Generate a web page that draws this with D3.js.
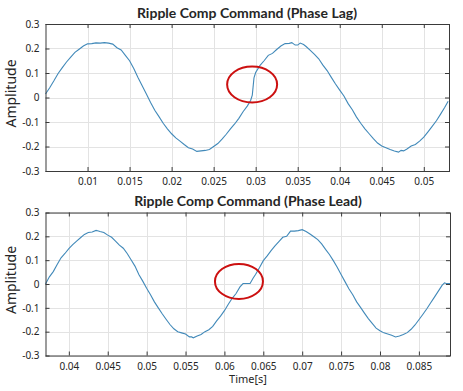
<!doctype html>
<html>
<head>
<meta charset="utf-8">
<title> Ripple Comp Command </title>
<script src="https://cdnjs.cloudflare.com/ajax/libs/d3/7.8.5/d3.min.js"></script>
<style>
body {
	margin: 0;
	background: white;
}
text {
	font-family: "Noto Sans", "Liberation Sans", sans-serif;
	fill: #262626;
}
.grid line {
	stroke: #e3e3e3;
	stroke-width: 1;
}
.frame {
	fill: none;
	stroke: #3a3a3a;
	stroke-width: 1;
}
.tick line {
	stroke: #3a3a3a;
}
.trace {
	fill: none;
	stroke: #4189b9;
	stroke-width: 1.1;
}
.mark {
	fill: none;
	stroke: #cc1010;
	stroke-width: 2;
}
</style>
</head>
<body>
<div id="chartContainer"></div>

<script type="text/javascript">

// ---- data ----
var titles = ["Ripple Comp Command (Phase Lag)", "Ripple Comp Command (Phase Lead)"];

var lagTime = [0.0050,0.0055,0.0060,0.0065,0.0070,0.0075,0.0080,0.0085,0.0090,0.0095,
	0.0100,0.0105,0.0110,0.0115,0.0120,0.0125,0.0130,0.0135,0.0140,0.0145,
	0.0150,0.0155,0.0160,0.0165,0.0170,0.0175,0.0180,0.0185,0.0190,0.0195,
	0.0200,0.0205,0.0210,0.0215,0.0220,0.0225,0.0230,0.0235,0.0240,0.0245,
	0.0250,0.0255,0.0260,0.0265,0.0270,0.0275,0.0280,0.0285,0.0290,0.0294,
	0.0296,0.0298,0.0300,0.0305,0.0310,0.0315,0.0320,0.0325,0.0330,0.0335,
	0.0340,0.0343,0.0347,0.0350,0.0353,0.0357,0.0360,0.0365,0.0370,0.0375,
	0.0380,0.0385,0.0390,0.0395,0.0400,0.0405,0.0410,0.0415,0.0420,0.0425,
	0.0430,0.0435,0.0440,0.0445,0.0450,0.0455,0.0460,0.0465,0.0470,0.0473,
	0.0476,0.0480,0.0485,0.0490,0.0495,0.0500,0.0505,0.0510,0.0515,0.0520,
	0.0525,0.0529];
var lagAmp = [0.014,0.040,0.068,0.098,0.122,0.145,0.165,0.184,0.197,0.210,
	0.219,0.220,0.223,0.222,0.224,0.222,0.218,0.203,0.194,0.172,
	0.150,0.118,0.082,0.048,0.014,-0.020,-0.052,-0.078,-0.105,-0.128,
	-0.148,-0.165,-0.178,-0.192,-0.205,-0.210,-0.220,-0.218,-0.216,-0.212,
	-0.200,-0.188,-0.170,-0.150,-0.128,-0.108,-0.085,-0.058,-0.035,-0.012,
	0.010,0.080,0.102,0.130,0.150,0.172,0.180,0.196,0.210,0.220,
	0.221,0.224,0.214,0.214,0.222,0.216,0.208,0.192,0.176,0.158,
	0.132,0.110,0.082,0.055,0.030,0.006,-0.025,-0.050,-0.080,-0.105,
	-0.128,-0.148,-0.168,-0.186,-0.198,-0.205,-0.212,-0.218,-0.223,-0.216,
	-0.218,-0.210,-0.198,-0.192,-0.178,-0.162,-0.140,-0.118,-0.095,-0.068,
	-0.040,-0.015];

var leadTime = [0.0370,0.0375,0.0380,0.0385,0.0390,0.0395,0.0400,0.0405,0.0410,0.0415,
	0.0420,0.0425,0.0430,0.0435,0.0438,0.0440,0.0445,0.0450,0.0455,0.0460,
	0.0465,0.0470,0.0475,0.0480,0.0485,0.0490,0.0495,0.0500,0.0505,0.0510,
	0.0515,0.0520,0.0525,0.0530,0.0535,0.0540,0.0545,0.0550,0.0555,0.0558,
	0.0560,0.0565,0.0570,0.0575,0.0580,0.0585,0.0590,0.0595,0.0600,0.0605,
	0.0610,0.0615,0.0620,0.0624,0.0630,0.0633,0.0637,0.0640,0.0645,0.0650,
	0.0655,0.0660,0.0665,0.0670,0.0675,0.0680,0.0685,0.0690,0.0695,0.0700,
	0.0705,0.0710,0.0715,0.0720,0.0725,0.0730,0.0735,0.0740,0.0745,0.0750,
	0.0755,0.0760,0.0765,0.0770,0.0775,0.0780,0.0785,0.0790,0.0795,0.0800,
	0.0805,0.0810,0.0815,0.0820,0.0825,0.0830,0.0835,0.0840,0.0845,0.0850,
	0.0855,0.0860,0.0865,0.0870,0.0875,0.0880,0.0883,0.0885,0.0890];
var leadAmp = [0.000,0.030,0.052,0.082,0.110,0.128,0.148,0.165,0.180,0.194,
	0.208,0.216,0.218,0.225,0.222,0.220,0.216,0.205,0.196,0.180,
	0.163,0.150,0.128,0.102,0.075,0.040,0.012,-0.018,-0.045,-0.075,
	-0.100,-0.125,-0.148,-0.170,-0.188,-0.200,-0.205,-0.210,-0.222,-0.222,
	-0.226,-0.218,-0.212,-0.200,-0.192,-0.178,-0.155,-0.135,-0.112,-0.085,
	-0.060,-0.040,-0.012,0.002,0.002,0.002,0.025,0.040,0.068,0.098,
	0.118,0.140,0.160,0.178,0.196,0.200,0.222,0.222,0.224,0.228,
	0.220,0.210,0.198,0.186,0.168,0.145,0.124,0.098,0.070,0.040,
	0.010,-0.020,-0.045,-0.075,-0.098,-0.122,-0.145,-0.165,-0.185,-0.196,
	-0.205,-0.210,-0.215,-0.222,-0.218,-0.212,-0.204,-0.190,-0.172,-0.150,
	-0.128,-0.105,-0.080,-0.055,-0.030,-0.005,0.005,0.002,0.002];

var lagTicks = [0.01,0.015,0.02,0.025,0.03,0.035,0.04,0.045,0.05];
var leadTicks = [0.04,0.045,0.05,0.055,0.06,0.065,0.07,0.075,0.08,0.085];
var ampTicks = [-0.3,-0.2,-0.1,0,0.1,0.2,0.3];

var lagDomain = [0.005, 0.053];
var leadDomain = [0.037, 0.089];
var ampDomain = [-0.3, 0.3];

// circled spots (centre in data units)
var lagMark = [0.02958, 0.053];
var leadMark = [0.06187, 0.011];

// ---- drawing ----
var svg = d3.select("#chartContainer").append("svg")
	.attr("width", 463)
	.attr("height", 391);

function panel(cfg)
{
	var x = d3.scaleLinear().domain(cfg.xDomain).range([cfg.left, cfg.right]);
	var y = d3.scaleLinear().domain(ampDomain).range([cfg.bottom, cfg.top]);

	var g = svg.append("g");

	// grid
	var grid = g.append("g").attr("class", "grid");
	grid.selectAll(".gx").data(cfg.xTicks).enter().append("line")
		.attr("x1", function(d){ return Math.round(x(d)) + 0.5; })
		.attr("x2", function(d){ return Math.round(x(d)) + 0.5; })
		.attr("y1", cfg.top).attr("y2", cfg.bottom);
	grid.selectAll(".gy").data(ampTicks).enter().append("line")
		.attr("y1", function(d){ return Math.round(y(d)) + 0.5; })
		.attr("y2", function(d){ return Math.round(y(d)) + 0.5; })
		.attr("x1", cfg.left).attr("x2", cfg.right);

	// axes, MATLAB style: ticks inward on all four sides
	var fmt = function(d){ return d === 0 ? "0" : String(+d.toFixed(3)); };
	var ax = g.append("g").attr("transform", "translate(0," + cfg.bottom + ")")
		.call(d3.axisBottom(x).tickValues(cfg.xTicks).tickSize(-4).tickPadding(7).tickFormat(fmt));
	var axTop = g.append("g").attr("transform", "translate(0," + cfg.top + ")")
		.call(d3.axisTop(x).tickValues(cfg.xTicks).tickSize(-4).tickFormat(""));
	var ay = g.append("g").attr("transform", "translate(" + cfg.left + ",0)")
		.call(d3.axisLeft(y).tickValues(ampTicks).tickSize(-4).tickPadding(6).tickFormat(fmt));
	var ayR = g.append("g").attr("transform", "translate(" + cfg.right + ",0)")
		.call(d3.axisRight(y).tickValues(ampTicks).tickSize(-4).tickFormat(""));
	[ax, axTop, ay, ayR].forEach(function(a){
		a.select(".domain").remove();
		a.selectAll("text").style("font-size", "10px").attr("fill", "#262626");
	});

	// trace
	var pts = cfg.t.map(function(d, i){ return [d, cfg.v[i]]; });
	g.append("path")
		.attr("class", "trace")
		.attr("d", d3.line().x(function(d){ return x(d[0]); }).y(function(d){ return y(d[1]); })(pts));

	g.append("rect")
		.attr("class", "frame")
		.attr("x", cfg.left + 0.5).attr("y", cfg.top + 0.5)
		.attr("width", cfg.right - cfg.left).attr("height", cfg.bottom - cfg.top);

	// red circle
	g.append("ellipse")
		.attr("class", "mark")
		.attr("cx", x(cfg.mark[0])).attr("cy", y(cfg.mark[1]))
		.attr("rx", cfg.rx).attr("ry", cfg.ry);

	// title
	g.append("text")
		.attr("x", cfg.titleX).attr("y", cfg.top - 6.5)
		.attr("text-anchor", "middle")
		.style("font-family", "Lato, 'Noto Sans', sans-serif")
		.style("font-size", "14px")
		.style("font-weight", "bold")
		.attr("fill", "#000")
		.text(cfg.title);

	g.append("text")
		.attr("transform", "translate(16," + ((cfg.top + cfg.bottom) / 2 - 4) + ") rotate(-90)")
		.attr("text-anchor", "middle")
		.style("font-size", "14px")
		.text("Amplitude");
}

panel({ left: 45.5, right: 449, top: 24, bottom: 171, xDomain: lagDomain, xTicks: lagTicks,
	t: lagTime, v: lagAmp, mark: lagMark, rx: 25, ry: 18, title: titles[0], titleX: 247 });
panel({ left: 45.5, right: 450, top: 212.5, bottom: 355.5, xDomain: leadDomain, xTicks: leadTicks,
	t: leadTime, v: leadAmp, mark: leadMark, rx: 24, ry: 17.5, title: titles[1], titleX: 248 });

svg.append("text")
	.attr("x", 248).attr("y", 383)
	.attr("text-anchor", "middle")
	.style("font-size", "11px")
	.text("Time[s]");

</script>
</body>
</html>
